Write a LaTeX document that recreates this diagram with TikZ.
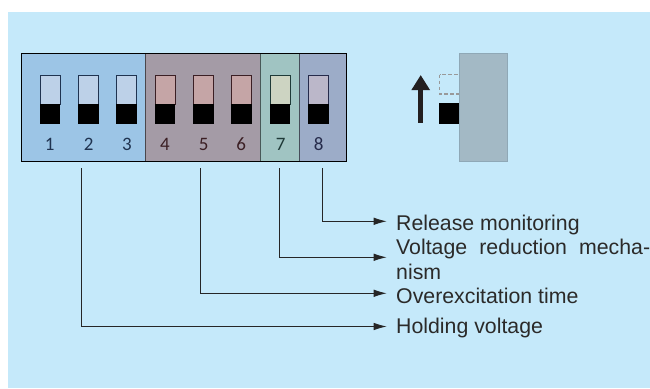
\documentclass[tikz,border=0pt]{standalone}
\usepackage{fontspec}
\setmainfont{Liberation Sans}
\newfontfamily\numfont{Carlito}
\usetikzlibrary{arrows.meta}
\definecolor{bgc}{HTML}{C5E9FA}
\definecolor{txtc}{HTML}{2B2A29}
\definecolor{secA}{HTML}{9CC5E6}
\definecolor{secB}{HTML}{A49BA6}
\definecolor{secC}{HTML}{A0C4C2}
\definecolor{secD}{HTML}{9CACC8}
\definecolor{topA}{HTML}{BDD1E8}
\definecolor{topB}{HTML}{C5A5A6}
\definecolor{topC}{HTML}{CDD4C2}
\definecolor{topD}{HTML}{BBB7C9}
\definecolor{edgeA}{HTML}{1F3350}
\definecolor{edgeB}{HTML}{3B1F24}
\definecolor{edgeC}{HTML}{1F3A38}
\definecolor{edgeD}{HTML}{262B4B}
\tikzset{x=1pt,y=-1pt,
 lab/.style={font=\fontsize{21.3}{25}\selectfont,text=txtc,anchor=base west,inner sep=0pt,align=left},
 num/.style={font=\numfont\fontsize{19}{19}\selectfont,inner sep=0pt,anchor=base},
 conn/.style={draw=black!85,line width=.9pt,-{Latex[length=13pt,width=7.5pt]}},
 sect/.style={fill=#1,draw=black!55!#1,line width=.8pt},
 swtop/.style 2 args={fill=#1,draw=#2,line width=.7pt}}
\newcommand{\dipswitch}[5]{%
 \path[swtop={#3}{#4}] (#1-10,75) rectangle (#1+10,104);
 \fill[black] (#1-10.3,103.5) rectangle (#1+10.3,124);
 \node[num,text=#4] (n#2) at (#1+#5,150) {#2};}
\begin{document}
\begin{tikzpicture}
\useasboundingbox (0,0) rectangle (650,388);
\fill[white] (0,0) rectangle (650,388);
\fill[bgc] (8,12) rectangle (650,388);
% sections
\path[sect=secA] (21.3,53.7) rectangle (145.7,161.3);
\path[sect=secB] (145.7,53.7) rectangle (260.7,161.3);
\path[sect=secC] (260.7,53.7) rectangle (299,161.3);
\path[sect=secD] (299,53.7) rectangle (346.7,161.3);
\draw[black,line width=1pt] (21.3,53.7) rectangle (346.7,161.3);
% switches
\dipswitch{50}{1}{topA}{edgeA}{-0.3}
\dipswitch{88.3}{2}{topA}{edgeA}{0.3}
\dipswitch{126.7}{3}{topA}{edgeA}{0.3}
\dipswitch{165}{4}{topB}{edgeB}{0}
\dipswitch{203.3}{5}{topB}{edgeB}{0.5}
\dipswitch{241.7}{6}{topB}{edgeB}{-0.5}
\dipswitch{280}{7}{topC}{edgeC}{0.7}
\dipswitch{318.3}{8}{topD}{edgeD}{0.3}
% side view
\draw[dash pattern=on 3.5pt off 2.5pt,draw=black!40,line width=1.1pt] (439.5,74.7) rectangle (459.3,94);
\path[fill={rgb,255:red,163;green,185;blue,197},draw={rgb,255:red,143;green,168;blue,182},line width=.9pt] (459.3,53.7) rectangle (507.7,161.3);
\fill[black] (439,103.3) rectangle (459.3,124);
\coordinate (upA) at (420.7,122.8);
\coordinate (upB) at (420.7,75);
\draw[draw={rgb,255:red,35;green,31;blue,32},line width=4.6pt,-{Triangle[length=15pt,width=17.5pt]}] (upA) -- (upB);
% labels
\node[lab] (l8) at (396,230) {Release monitoring};
\node[lab] (l7) at (396,279) {\makebox[254pt][s]{Voltage reduction mecha-}\\nism};
\node[lab] (l5) at (396,303) {Overexcitation time};
\node[lab] (l1) at (396,333) {Holding voltage};
% connectors
\coordinate (s8) at (322.7,168); \coordinate (e8) at (386.7,221.3);
\coordinate (s7) at (279.7,168); \coordinate (e7) at (386.7,257.3);
\coordinate (s5) at (200.7,168); \coordinate (e5) at (386.7,293.3);
\coordinate (s1) at (81,168);    \coordinate (e1) at (386.7,326.5);
\draw[conn] (s8) |- (e8);
\draw[conn] (s7) |- (e7);
\draw[conn] (s5) |- (e5);
\draw[conn] (s1) |- (e1);
\end{tikzpicture}
\end{document}
